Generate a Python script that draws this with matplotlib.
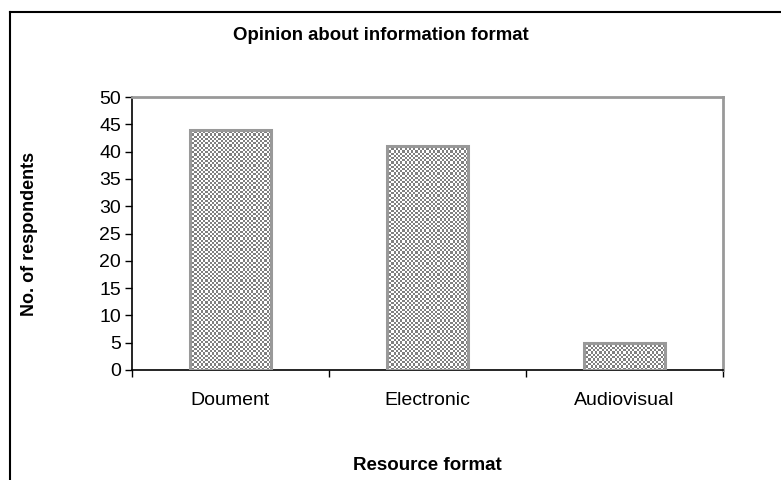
import numpy as np
import matplotlib
matplotlib.use("Agg")
import matplotlib.pyplot as plt
from matplotlib.lines import Line2D

categories = ["Doument", "Electronic", "Audiovisual"]
values = [44, 41, 5]
yticks = [0, 5, 10, 15, 20, 25, 30, 35, 40, 45, 50]
title = "Opinion about information format"
xlabel = "Resource format"
ylabel = "No. of respondents"

plt.rcParams['font.family'] = ['Liberation Sans', 'DejaVu Sans']

W, H, DPI = 781, 480, 100
fig = plt.figure(figsize=(W / DPI, H / DPI), dpi=DPI)
ax = fig.add_axes([132 / W, 1 - 370 / H, (723 - 132) / W, (370 - 97) / H])

x = np.arange(len(categories))
bw = 0.41
ax.set_xlim(-0.5, len(categories) - 0.5)
ax.set_ylim(0, 50)

# checkerboard fill for bars
cell = 2.2  # pixels
for xi, v in zip(x, values):
    x0, x1 = xi - bw / 2, xi + bw / 2
    p0 = ax.transData.transform((x0, 0))
    p1 = ax.transData.transform((x1, v))
    nx = max(1, int(round((p1[0] - p0[0]) / cell)))
    ny = max(1, int(round((p1[1] - p0[1]) / cell)))
    ii, jj = np.indices((ny, nx))
    chk = ((ii + jj) % 2).astype(float)
    img = np.where(chk[..., None] > 0, np.array([0.50, 0.50, 0.50]), np.array([1.0, 1.0, 1.0]))
    ax.imshow(img, extent=(x0, x1, 0, v), aspect='auto', interpolation='nearest', zorder=2)
    ax.bar(xi, v, width=bw, facecolor='none', edgecolor='#999999', linewidth=2.2, zorder=3)

ax.set_xlim(-0.5, len(categories) - 0.5)
ax.set_ylim(0, 50)

ax.set_yticks(yticks)
ax.set_yticklabels([str(t) for t in yticks], fontsize=14)
ax.tick_params(axis='y', direction='out', length=5, width=1, pad=3)

# category labels without ticks, ticks at boundaries
ax.set_xticks(x)
ax.set_xticklabels(categories, fontsize=14)
ax.tick_params(axis='x', which='major', length=0, pad=16)
ax.set_xticks(np.arange(len(categories) + 1) - 0.5, minor=True)
ax.tick_params(axis='x', which='minor', direction='out', length=5, width=1)

for s in ['left', 'bottom']:
    ax.spines[s].set_color('black')
    ax.spines[s].set_linewidth(1.2)
for s in ['top', 'right']:
    ax.spines[s].set_color('#999999')
    ax.spines[s].set_linewidth(2)

fig.text(381 / W, 1 - 36 / H, title, ha='center', va='center', fontsize=13.4, fontweight='bold')
fig.text(427 / W, 1 - 466 / H, xlabel, ha='center', va='center', fontsize=13.5, fontweight='bold')
fig.text(30 / W, 1 - 234 / H, ylabel, ha='center', va='center', rotation=90, fontsize=13, fontweight='bold')

# outer chart border (partially cut off)
fig.add_artist(Line2D([9.5 / W, 9.5 / W], [0, 1 - 11.5 / H], color='black', lw=1.5, transform=fig.transFigure))
fig.add_artist(Line2D([9.5 / W, 1.0], [1 - 11.5 / H, 1 - 11.5 / H], color='black', lw=1.5, transform=fig.transFigure))

fig.savefig("out.png", dpi=DPI)
